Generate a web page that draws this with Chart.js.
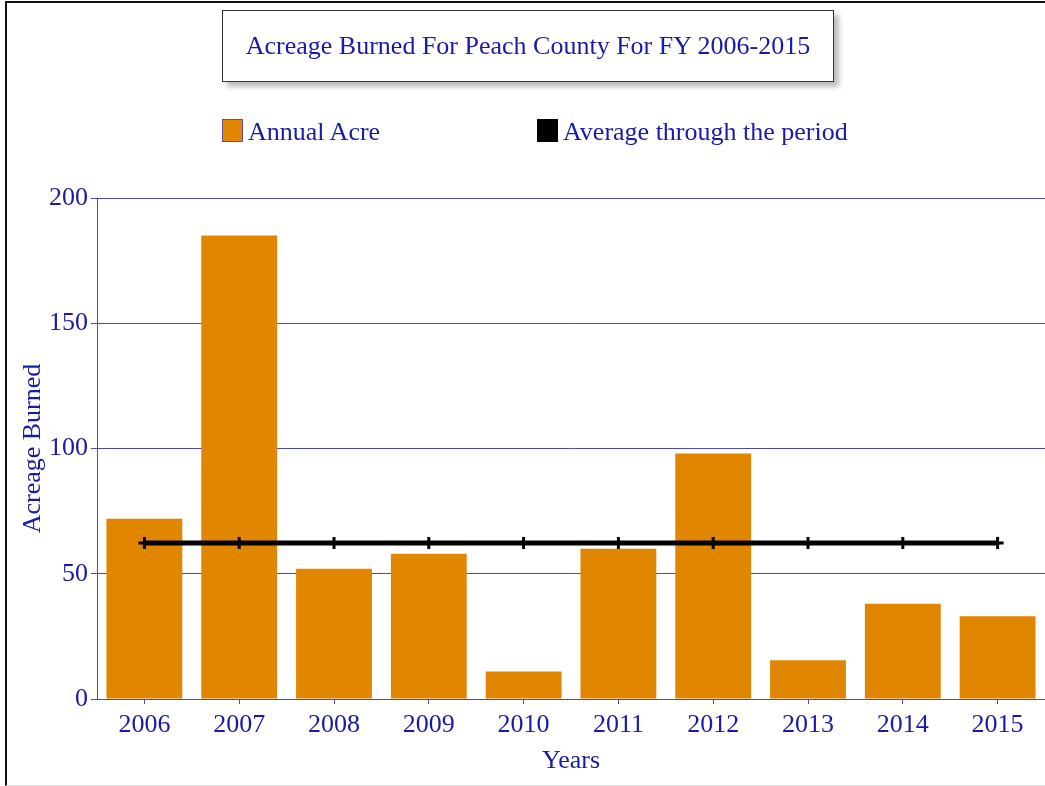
<!DOCTYPE html>
<html>
<head>
<meta charset="utf-8">
<script src="https://cdn.jsdelivr.net/npm/chart.js@4/dist/chart.umd.min.js"></script>
<style>
  html, body { margin: 0; padding: 0; background: #fff; overflow: hidden; }
  #wrap { position: relative; width: 1045px; height: 786px; overflow: hidden; }
  #frame { position: absolute; left: 5px; top: 1px; width: 1100px; height: 782px;
           border-left: 2px solid #111; border-top: 2px solid #111; border-bottom: 1px solid #ddd; }
  canvas { position: absolute; left: 0; top: 0; }
  .blue { color: #1a1aa8; font-family: "Liberation Serif", "DejaVu Serif", serif; font-size: 26px; }
  #title-box { position: absolute; left: 222px; top: 10px; width: 610px; height: 70px;
               border: 1px solid #333; background: #fff; box-shadow: 5px 5px 5px #bbb;
               display: flex; align-items: center; justify-content: center; white-space: nowrap; }
  .leg { position: absolute; top: 119px; height: 24px; line-height: 26px; white-space: nowrap; }
  .leg i { display: inline-block; width: 21px; height: 23px; vertical-align: top; margin-right: 5px;
           box-sizing: border-box; }
</style>
</head>
<body>
<div id="wrap">
  <div id="frame"></div>
  <!-- canvas a bit wider than the window so the plot runs to the right edge, as in the original -->
  <canvas id="chart" width="1054" height="786"></canvas>
  <div id="title-box" class="blue">Acreage Burned For Peach County For FY 2006-2015</div>
  <div class="leg blue" style="left:222px"><i style="background:#e08600;border:1px solid #6a4aa0"></i>Annual Acre</div>
  <div class="leg blue" style="left:537px"><i style="background:#000"></i>Average through the period</div>
</div>
<script>
/* ===== Data ===== */
const years = ["2006", "2007", "2008", "2009", "2010", "2011", "2012", "2013", "2014", "2015"];
const annualAcre = [72, 185, 52, 58, 11, 60, 98, 15.5, 38, 33];
const average = [62.3, 62.3, 62.3, 62.3, 62.3, 62.3, 62.3, 62.3, 62.3, 62.3];
const yTicks = [0, 50, 100, 150, 200];

const BLUE = "#1a1aa8";
const GRID = "#4a4ab8";
const FONT = { family: "'Liberation Serif', 'DejaVu Serif', serif", size: 26 };

const ctx = document.getElementById("chart").getContext("2d");

new Chart(ctx, {
  type: "bar",
  data: {
    labels: years,
    datasets: [
      {
        type: "line",
        label: "Average through the period",
        data: average,
        borderColor: "#000",
        backgroundColor: "#000",
        borderWidth: 5,
        pointStyle: "cross",
        pointRadius: 6,
        pointBorderWidth: 3,
        fill: false,
        order: 0,
      },
      {
        label: "Annual Acre",
        data: annualAcre,
        backgroundColor: "#e08600",
        borderWidth: 0,
        barPercentage: 0.8,
        categoryPercentage: 1.0,
        order: 1,
      },
    ],
  },
  options: {
    responsive: false,
    animation: false,
    layout: { padding: { top: 198, right: 0, bottom: 0, left: 0 } },
    plugins: {
      legend: { display: false },
      title: { display: false },
      tooltip: { enabled: false },
    },
    scales: {
      x: {
        offset: true,
        grid: { offset: false, drawOnChartArea: false, drawTicks: true, tickLength: 5, color: GRID },
        border: { color: GRID, width: 1 },
        ticks: { color: BLUE, font: FONT, padding: 6, maxRotation: 0 },
        title: { display: true, text: "Years", color: BLUE, font: FONT, padding: { top: 0, bottom: 9 } },
        afterFit: s => { s.height = 87; },
      },
      y: {
        min: 0,
        max: 200,
        afterBuildTicks: s => { s.ticks = yTicks.map(v => ({ value: v })); },
        grid: { color: GRID, tickLength: 6 },
        border: { color: GRID, width: 1 },
        ticks: { color: BLUE, font: FONT, padding: 3 },
        title: { display: true, text: "Acreage Burned", color: BLUE, font: FONT, padding: { top: 18, bottom: 0 } },
        afterFit: s => { s.width = 97; },
      },
    },
  },
});
</script>
</body>
</html>
